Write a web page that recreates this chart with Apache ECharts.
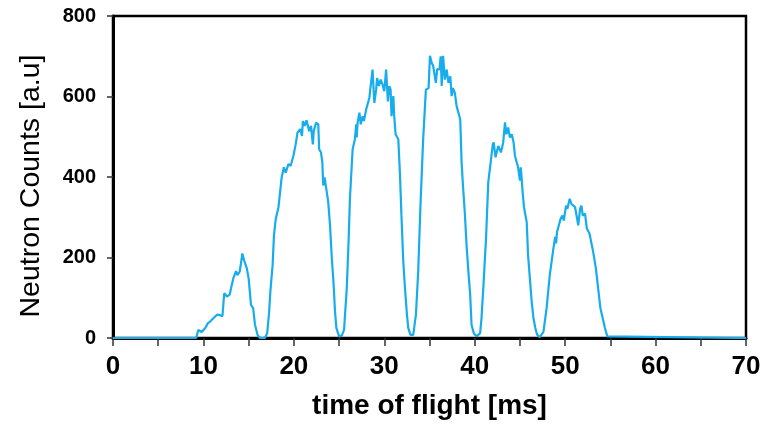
<!DOCTYPE html>
<html>
<head>
<meta charset="utf-8">
<script src="https://cdn.jsdelivr.net/npm/echarts@6/dist/echarts.min.js"></script>
<style>
html,body{margin:0;padding:0;background:#fff;}
#chart{width:764px;height:425px;}
</style>
</head>
<body>
<div id="chart"></div>
<script>
// time of flight [ms]
var times = [0, 9.2, 9.43, 9.8, 10.2, 10.5, 10.8, 11.1, 11.5, 11.8, 12.1, 12.3, 12.6, 12.9, 13.3, 13.6, 13.75, 14.0, 14.15, 14.3, 14.5, 14.8, 15.0, 15.26, 15.5, 15.7, 16.0, 16.25, 16.8,
  17.05, 17.25, 17.4, 17.65, 17.8, 18.0, 18.3, 18.5, 18.65, 18.9, 19.1, 19.4, 19.65, 19.95, 20.2, 20.4, 20.7, 20.9, 21.0, 21.2, 21.4, 21.7, 21.9, 22.1, 22.2, 22.45, 22.7, 22.8, 23.0, 23.15, 23.25, 23.4, 23.6, 23.8, 24.0, 24.2, 24.4, 24.55, 24.7, 25.0, 25.3,
  25.55, 25.85, 26.05, 26.2, 26.5, 26.75, 26.9, 26.95, 27.05, 27.25, 27.4, 27.6, 27.75, 28.0, 28.2, 28.35, 28.55, 28.7, 28.9, 29.1, 29.2, 29.4, 29.6, 29.8, 30.0, 30.2, 30.4, 30.55, 30.7, 30.8, 31.0, 31.1, 31.25, 31.55, 31.74, 31.9, 32.1, 32.3, 32.5, 32.65, 32.9, 33.2,
  33.5, 33.75, 34.0, 34.3, 34.6, 34.9, 35.05, 35.25, 35.4, 35.7, 35.85, 36.1, 36.24, 36.35, 36.5, 36.7, 36.9, 37.1, 37.3, 37.45, 37.6, 37.8, 38.0, 38.2, 38.4, 38.55, 38.7, 38.9, 39.1, 39.3, 39.5, 39.65, 39.9, 40.2, 40.6,
  40.75, 40.95, 41.25, 41.5, 41.76, 42.0, 42.1, 42.3, 42.6, 42.9, 43.15, 43.35, 43.5, 43.7, 43.9, 44.1, 44.3, 44.45, 44.65, 44.8, 45.0, 45.1, 45.3, 45.45, 45.75, 45.9, 46.1, 46.3, 46.5, 46.7, 46.9, 47.2,
  47.6, 47.95, 48.3, 48.7, 48.9, 49.0, 49.1, 49.35, 49.5, 49.7, 49.85, 50.1, 50.25, 50.5, 50.7, 50.9, 51.1, 51.3, 51.45, 51.65, 51.8, 51.95, 52.2, 52.4, 52.55, 52.7, 52.85, 53.1, 53.4, 53.65, 53.9, 54.2, 54.4, 54.66, 54.8, 70];
// neutron counts [a.u]
var counts = [0, 0, 20, 15, 25, 37, 42, 49, 58, 57, 54, 111, 103, 108, 148, 166, 156, 164, 185, 210, 193, 173, 148, 82, 74, 33, 7, 0, 0,
  12, 60, 115, 181, 255, 296, 325, 329, 399, 424, 411, 432, 428, 453, 481, 510, 519, 502, 539, 527, 541, 514, 527, 481, 514, 535, 531, 469, 461, 436, 379, 399, 395, 338, 280, 198, 132, 66, 25, 4, 6,
  20, 123, 240, 346, 469, 494, 531, 498, 535, 560, 531, 551, 539, 568, 572, 597, 593, 667, 584, 617, 646, 626, 642, 630, 613, 667, 588, 626, 617, 551, 601, 551, 506, 494, 403, 304, 190, 120, 60, 25, 8, 8,
  58, 165, 329, 494, 617, 621, 701, 683, 677, 634, 668, 667, 700, 626, 701, 642, 667, 634, 650, 601, 621, 609, 576, 580, 543, 436, 379, 313, 230, 165, 107, 33, 12, 4, 12,
  49, 124, 247, 387, 436, 481, 486, 449, 477, 461, 486, 536, 506, 523, 498, 506, 486, 453, 436, 424, 391, 424, 362, 325, 288, 206, 148, 90, 49, 25, 8, 2,
  15, 74, 156, 222, 251, 235, 263, 284, 296, 304, 292, 329, 321, 346, 333, 337, 325, 329, 280, 321, 329, 304, 309, 272, 276, 259, 255, 214, 173, 123, 74, 45, 25, 4, 0, 0];
var xTicks = [0, 10, 20, 30, 40, 50, 60, 70];
var yTicks = [0, 200, 400, 600, 800];

var pts = times.map(function (t, i) { return [t, counts[i]]; });
var FONT = "'Liberation Sans', Arial, sans-serif";
var chart = echarts.init(document.getElementById('chart'), null, {renderer: 'canvas'});
chart.setOption({
  animation: false,
  backgroundColor: '#fff',
  grid: {left: 113, right: 18, top: 16, bottom: 85, show: true, borderColor: '#000', borderWidth: 2.5, backgroundColor: 'transparent'},
  xAxis: {
    type: 'value', min: xTicks[0], max: xTicks[xTicks.length - 1], interval: 10, z: 3,
    axisLine: {show: true, onZero: false, lineStyle: {color: '#000', width: 3}},
    axisTick: {show: true, length: 8, lineStyle: {color: '#333', width: 1.5}},
    minorTick: {show: true, splitNumber: 2, length: 8, lineStyle: {color: '#333', width: 1.5}},
    splitLine: {show: false},
    axisLabel: {fontFamily: FONT, fontSize: 26, fontWeight: 'bold', color: '#000', margin: 16},
    name: 'time of flight [ms]', nameLocation: 'middle', nameGap: 54,
    nameTextStyle: {fontFamily: FONT, fontSize: 28, fontWeight: 'bold', color: '#000'}
  },
  yAxis: {
    type: 'value', min: yTicks[0], max: yTicks[yTicks.length - 1], interval: 200, z: 3,
    axisLine: {show: true, onZero: false, lineStyle: {color: '#000', width: 3}},
    axisTick: {show: true, length: 6, lineStyle: {color: '#333', width: 1.5}},
    splitLine: {show: false},
    axisLabel: {fontFamily: FONT, fontSize: 20, fontWeight: 'bold', color: '#000', margin: 17},
    name: 'Neutron Counts [a.u]', nameLocation: 'middle', nameGap: 67,
    nameTextStyle: {fontFamily: FONT, fontSize: 28.5, color: '#000', padding: [0, 18, 0, 0]}
  },
  series: [{
    type: 'line', data: pts, showSymbol: false, smooth: false,
    lineStyle: {color: '#17ACEB', width: 2.2}
  }]
});
</script>
</body>
</html>
